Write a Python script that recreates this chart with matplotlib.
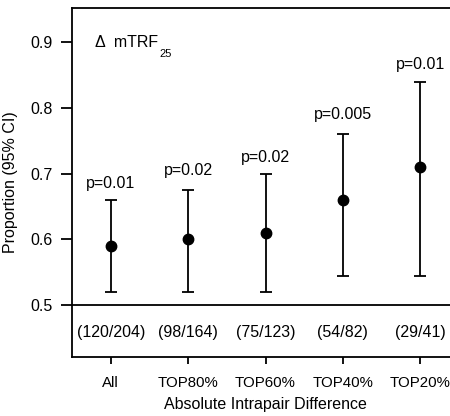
import matplotlib.pyplot as plt

plt.rcParams['font.family'] = ['Liberation Sans', 'DejaVu Sans']

groups = ["All", "TOP80%", "TOP60%", "TOP40%", "TOP20%"]
proportion = [0.59, 0.60, 0.61, 0.66, 0.71]
ci_low = [0.52, 0.52, 0.52, 0.545, 0.545]
ci_high = [0.66, 0.675, 0.70, 0.76, 0.84]
p_labels = ["p=0.01", "p=0.02", "p=0.02", "p=0.005", "p=0.01"]
p_label_y = [0.685, 0.704, 0.725, 0.79, 0.866]
counts = ["(120/204)", "(98/164)", "(75/123)", "(54/82)", "(29/41)"]

fs = 11.5
fig = plt.figure(figsize=(4.5, 4.16), dpi=100)
ax = fig.add_axes([72 / 450, 1 - 357 / 416, 1 - 72 / 450 + 0.02, (357 - 8) / 416])

x = list(range(1, len(groups) + 1))
err = [[p - lo for p, lo in zip(proportion, ci_low)],
       [hi - p for p, hi in zip(proportion, ci_high)]]
ax.errorbar(x, proportion, yerr=err, fmt='o', color='black', ms=7.5,
            elinewidth=1.3, capsize=4.5, capthick=1.3)

for xi, lab, ly in zip(x, p_labels, p_label_y):
    ax.text(xi, ly, lab, ha='center', va='center', fontsize=fs)
for xi, c in zip(x, counts):
    ax.text(xi, 0.458, c, ha='center', va='center', fontsize=fs)

ax.axhline(0.5, color='black', lw=1.3)
t = ax.text(0.8, 0.9, "Δ  mTRF", ha='left', va='center', fontsize=fs)
ax.annotate("25", xy=(1, 0), xycoords=t, xytext=(0.5, -3), textcoords='offset points',
            ha='left', va='center', fontsize=8)

ax.set_xlim(0.5, 5.5)
ax.set_ylim(0.421, 0.952)
ax.set_yticks([0.5, 0.6, 0.7, 0.8, 0.9])
ax.set_yticklabels(["0.5", "0.6", "0.7", "0.8", "0.9"])
ax.set_xticks(x)
ax.set_xticklabels(groups)
ax.tick_params(axis='y', direction='out', length=8, width=1.3, labelsize=fs, pad=6)
ax.tick_params(axis='x', direction='out', length=5, width=1.3, labelsize=10.8, pad=9)
ax.spines['right'].set_visible(False)
for s in ['left', 'top', 'bottom']:
    ax.spines[s].set_linewidth(1.3)
ax.set_xlabel("Absolute Intrapair Difference", fontsize=fs, labelpad=5)
ax.set_ylabel("Proportion (95% CI)", fontsize=fs, labelpad=9)

fig.savefig("out.png", dpi=100)
